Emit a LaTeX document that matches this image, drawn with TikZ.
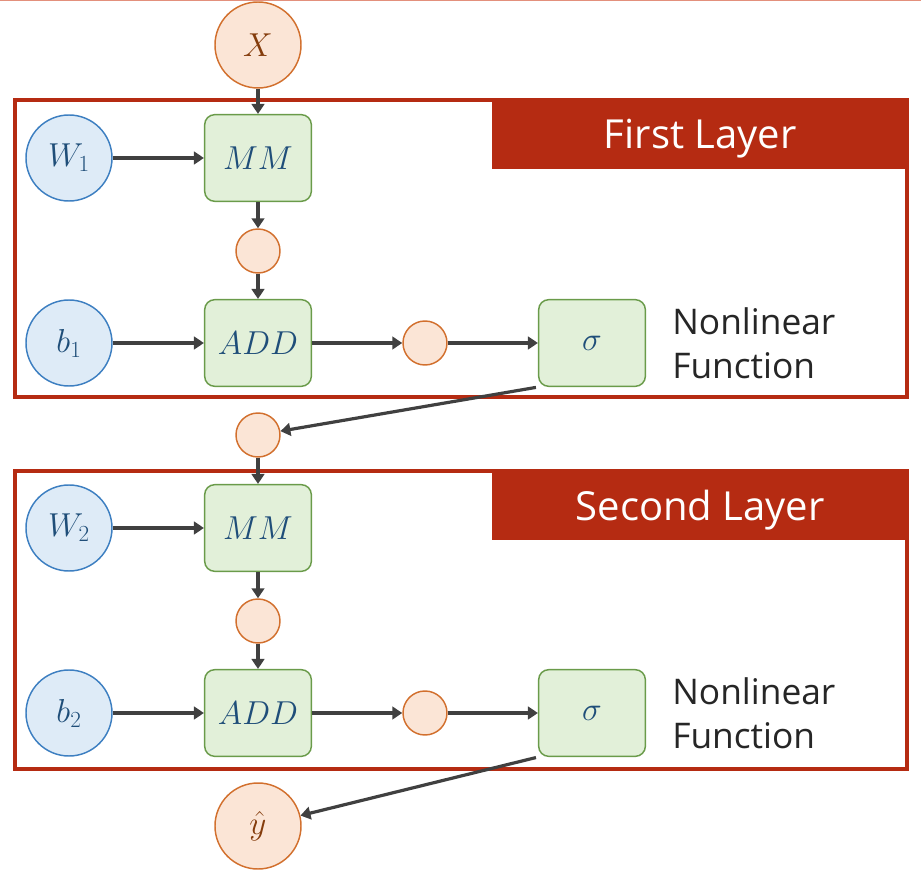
\documentclass[tikz,border=0pt]{standalone}
\usepackage{fontspec}
\usepackage{tikz}
\usepackage{xcolor}
\usetikzlibrary{arrows.meta}
\newfontfamily\layerfont{Open Sans}
\definecolor{frameRed}{HTML}{B52B12}
\definecolor{ruleRed}{HTML}{E3907C}
\definecolor{ioFill}{HTML}{FBE5D6}
\definecolor{ioLine}{HTML}{D2702E}
\definecolor{ioText}{HTML}{843C0C}
\definecolor{parFill}{HTML}{DEEBF7}
\definecolor{parLine}{HTML}{3D7FC1}
\definecolor{parText}{HTML}{1F4E79}
\definecolor{opFill}{HTML}{E2F0D9}
\definecolor{opLine}{HTML}{6A9B4A}
\definecolor{flowGray}{HTML}{404040}
\definecolor{noteText}{HTML}{262626}

\begin{document}
\begin{tikzpicture}[x=0.75pt,y=-0.75pt,>={Triangle[length=7.5pt,width=9.5pt]},
	io/.style={circle,draw=ioLine,fill=ioFill,line width=1.1pt,minimum size=64.5pt,inner sep=0pt,text=ioText,font=\fontsize{23}{27}\selectfont},
	param/.style={circle,draw=parLine,fill=parFill,line width=1.1pt,minimum size=64.5pt,inner sep=0pt,text=parText,font=\fontsize{23}{27}\selectfont},
	mid/.style={circle,draw=ioLine,fill=ioFill,line width=1.1pt,minimum size=33pt,inner sep=0pt},
	op/.style={rectangle,rounded corners=7.5pt,draw=opLine,fill=opFill,line width=1.1pt,minimum width=80pt,minimum height=65pt,inner sep=0pt,text=parText,font=\fontsize{23}{27}\selectfont},
	flow/.style={->,draw=flowGray,line width=2.4pt},
	frame/.style={draw=frameRed,line width=2.3pt},
	banner/.style={fill=frameRed,text=white,minimum width=312pt,minimum height=53pt,text depth=0pt,anchor=north east,inner sep=0pt,font=\layerfont\fontsize{30}{36}\selectfont},
	note/.style={anchor=west,align=left,inner sep=0pt,text=noteText,font=\layerfont\fontsize{26.5}{33}\selectfont}]
	\useasboundingbox (0,0) rectangle (921,873);
	\draw[ruleRed,line width=1pt] (0,0.7) -- (921,0.7);
	
	% layer frames
	\draw[frame] (15,100) rectangle (907,397);
	\node[banner] (title1) at (908.5,98.5) {First Layer};
	\draw[frame] (15,471) rectangle (907,769);
	\node[banner] (title2) at (908.5,469.5) {Second Layer};
	
	% input
	\node[io] (x) at (258,45) {$X$};
	
	% first layer
	\node[param] (w1) at (69,158) {$W_1$};
	\node[op] (mm1) at (258,158) {$MM$};
	\node[mid] (h1) at (258,251) {};
	\node[param] (b1) at (69,343) {$b_1$};
	\node[op] (add1) at (258,343) {$ADD$};
	\node[mid] (z1) at (425,343) {};
	\node[op] (sig1) at (592,343) {$\sigma$};
	\node[note] (nl1) at (672,343) {Nonlinear\\Function};
	
	\node[mid] (a1) at (258,435) {};
	
	% second layer
	\node[param] (w2) at (69,528) {$W_2$};
	\node[op] (mm2) at (258,528) {$MM$};
	\node[mid] (h2) at (258,621) {};
	\node[param] (b2) at (69,713) {$b_2$};
	\node[op] (add2) at (258,713) {$ADD$};
	\node[mid] (z2) at (425,713) {};
	\node[op] (sig2) at (592,713) {$\sigma$};
	\node[note] (nl2) at (672,713) {Nonlinear\\Function};
	
	% output
	\node[io] (yhat) at (258,826) {$\hat{y}$};
	
	% connections
	\draw[flow] (x) -- (mm1);
	\draw[flow] (w1) -- (mm1);
	\draw[flow] (mm1) -- (h1);
	\draw[flow] (h1) -- (add1);
	\draw[flow] (b1) -- (add1);
	\draw[flow] (add1) -- (z1);
	\draw[flow] (z1) -- (sig1);
	\draw[flow, shorten <=1.5pt] (sig1.south west) -- (a1);
	\draw[flow] (a1) -- (mm2);
	\draw[flow] (w2) -- (mm2);
	\draw[flow] (mm2) -- (h2);
	\draw[flow] (h2) -- (add2);
	\draw[flow] (b2) -- (add2);
	\draw[flow] (add2) -- (z2);
	\draw[flow] (z2) -- (sig2);
	\draw[flow, shorten <=1.5pt] (sig2.south west) -- (yhat);
\end{tikzpicture}
\end{document}
